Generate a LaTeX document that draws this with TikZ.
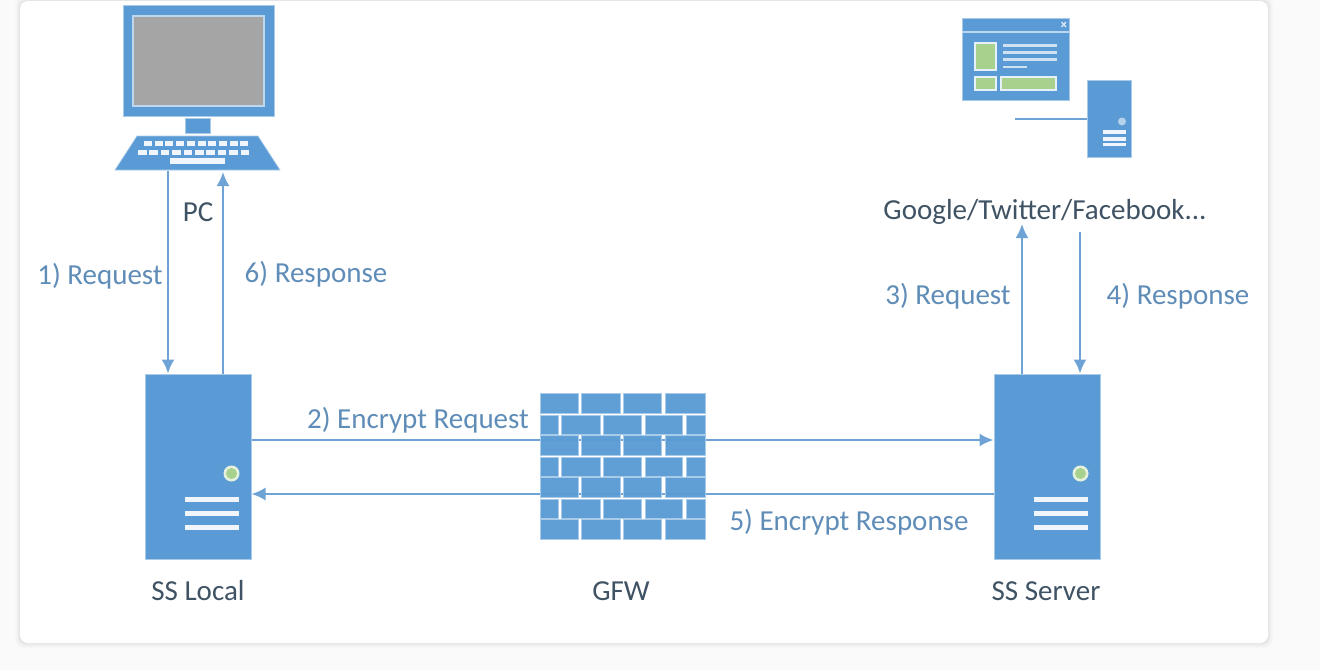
\documentclass[tikz,border=0pt]{standalone}
\usepackage{fontspec}
\setmainfont{Carlito}
\usetikzlibrary{arrows.meta,calc}
\definecolor{bl}{HTML}{5B9BD5}
\definecolor{blline}{HTML}{6FA3D6}
\definecolor{edgeb}{HTML}{A9CBEA}
\definecolor{gr}{HTML}{A5A5A5}
\definecolor{grn}{HTML}{A9D18E}
\definecolor{lab}{HTML}{5F8DB8}
\definecolor{nam}{HTML}{3F5364}
\tikzset{
  x=1pt,y=-1pt,
  fillb/.style={fill=bl,draw=edgeb,line width=1pt},
  white bar/.style={draw=white!90!bl,line width=4.5pt},
  thin bar/.style={draw=white!70!bl,line width=2.6pt},
  conn/.style={draw=blline,line width=2pt,-{Latex[length=14pt,width=13pt]}},
  labelt/.style={text=lab,font=\fontsize{29}{32}\selectfont,inner sep=0pt,anchor=center},
  namet/.style={text=nam,font=\fontsize{29}{32}\selectfont,inner sep=0pt,anchor=center},
  serverbox/.style={fillb,rectangle,inner sep=0pt,minimum width=106pt,minimum height=185pt},
  brick/.style={fill=bl,draw=edgeb,line width=0.5pt},
}
\newcommand{\serverdetail}[1]{%
  \fill[white!70!grn] ($(#1.south east)+(-20,-86)$) circle (8);
  \fill[grn] ($(#1.south east)+(-20,-86)$) circle (5.5);
  \draw[white bar] ($(#1.south west)+(40,-60)$) -- ($(#1.south east)+(-13,-60)$);
  \draw[white bar] ($(#1.south west)+(40,-46)$) -- ($(#1.south east)+(-13,-46)$);
  \draw[white bar] ($(#1.south west)+(40,-32)$) -- ($(#1.south east)+(-13,-32)$);
}
\begin{document}
\begin{tikzpicture}
\useasboundingbox (0,0) rectangle (1320,670);
\fill[white!98!black] (0,0) rectangle (1320,670);
% card
\foreach \o/\c in {5/97,4/96,3/94,2/92,1/90}{
  \fill[black!\the\numexpr100-\c\relax!white,rounded corners=8pt] (20-\o,1-\o) rectangle (1268+\o,643+\o);}
\fill[white,rounded corners=8pt] (20,1) rectangle (1268,643);

% PC
\node[fillb,rectangle,inner sep=0pt,minimum width=151pt,minimum height=111pt] (mon) at (198.5,60.5) {};
\node[fill=gr,draw=white!60!bl,line width=2pt,rectangle,inner sep=0pt,minimum width=131pt,minimum height=90pt] (scr) at (198.5,61) {};
\node[fillb,rectangle,inner sep=0pt,minimum width=25pt,minimum height=15pt] (stand) at (197.5,125.5) {};
\node[inner sep=0pt,minimum width=165pt,minimum height=34pt] (kb) at (197.5,153) {};
\fill[bl,draw=edgeb,line width=.6pt] (137,136) -- (258,136) -- (280,170) -- (115,170) -- cycle;
\foreach \i in {0,...,9}{
  \fill[white!90!bl] (144+\i*10.7,140.5) rectangle ++(8,5.5);
  \fill[white!90!bl] (138+\i*11.4,149.5) rectangle ++(8.5,5.5);
}
\fill[white!90!bl] (170,158) rectangle (225,163.5);
\node[namet] (pclab) at (198,212) {PC};

% Web
\node[fillb,rectangle,inner sep=0pt,minimum width=107pt,minimum height=82pt] (win) at (1015.5,59) {};
\draw[white!60!bl,line width=2pt] (962,32) -- (1069,32);
\draw[white!75!bl,line width=1.3pt] (1061.5,22) -- (1066,27) (1066,22) -- (1061.5,27);
\fill[grn,draw=white!85!bl,line width=1.6pt] (975,43) rectangle (996,70);
\fill[grn,draw=white!85!bl,line width=1.6pt] (975,77) rectangle (996,90);
\fill[grn,draw=white!85!bl,line width=1.6pt] (1001,77) rectangle (1056,90);
\foreach \yy in {45.5,52.5,59.5}{\draw[thin bar] (1003,\yy) -- (1057,\yy);}
\draw[thin bar] (1003,67) -- (1027,67);
\node[fillb,rectangle,inner sep=0pt,minimum width=44pt,minimum height=77pt] (websrv) at (1109,118.5) {};
\fill[white!55!bl] (1122,121.5) circle (4);
\foreach \yy in {132,139,144.5}{\draw[white bar,line width=3.2pt] (1103,\yy) -- (1126,\yy);}
\coordinate (webl) at (1015,119);
\draw[blline,line width=2.4pt] (webl) -- (webl -| websrv.west);
\node[namet] (weblab) at (1045,212) {Google/Twitter/Facebook...};

% servers
\node[serverbox] (ssl) at (198,466.5) {};
\serverdetail{ssl}
\node[serverbox] (ssr) at (1047,466.5) {};
\serverdetail{ssr}
\node[namet] (ssllab) at (198,591) {SS Local};
\node[namet] (ssrlab) at (1046,591) {SS Server};

% connectors
\coordinate (a1) at (168,171);
\coordinate (a6) at (223,172);
\coordinate (a3) at (1022,224);
\coordinate (a4) at (1080,232);
\draw[conn] (a1) -- (a1 |- ssl.north);
\draw[conn] (a6 |- ssl.north) -- (a6);
\draw[conn] (a3 |- ssr.north) -- (a3);
\draw[conn] (a4) -- (a4 |- ssr.north);
\coordinate (h2) at (0,440);
\coordinate (h5) at (0,494);
\draw[conn] (ssl.east |- h2) -- (ssr.west |- h2);
\draw[conn] (ssr.west |- h5) -- (ssl.east |- h5);

% GFW
\node[inner sep=0pt,minimum width=165pt,minimum height=147pt] (gfw) at (622.5,466.5) {};
\foreach \r in {0,2,4,6}{
  \foreach \xa/\xb in {540/578,581.5/620,623.5/661.5,665/705}{
    \fill[brick,fill opacity=.97] (\xa,393.5+\r*21) rectangle (\xb,413+\r*21);
  }
}
\foreach \r in {1,3,5}{
  \foreach \xa/\xb in {540/558,561.5/600,603.5/641.5,645/682.5,686/705}{
    \fill[brick,fill opacity=.97] (\xa,394.5+\r*21) rectangle (\xb,413+\r*21);
  }
}
\node[namet] (gfwlab) at (621,591) {GFW};

% labels
\node[labelt] at (100,276) {1) Request};
\node[labelt] at (316,274) {6) Response};
\node[labelt] at (418,420) {2) Encrypt Request};
\node[labelt] at (849,522) {5) Encrypt Response};
\node[labelt] at (948,296) {3) Request};
\node[labelt] at (1178,296) {4) Response};
\end{tikzpicture}
\end{document}
